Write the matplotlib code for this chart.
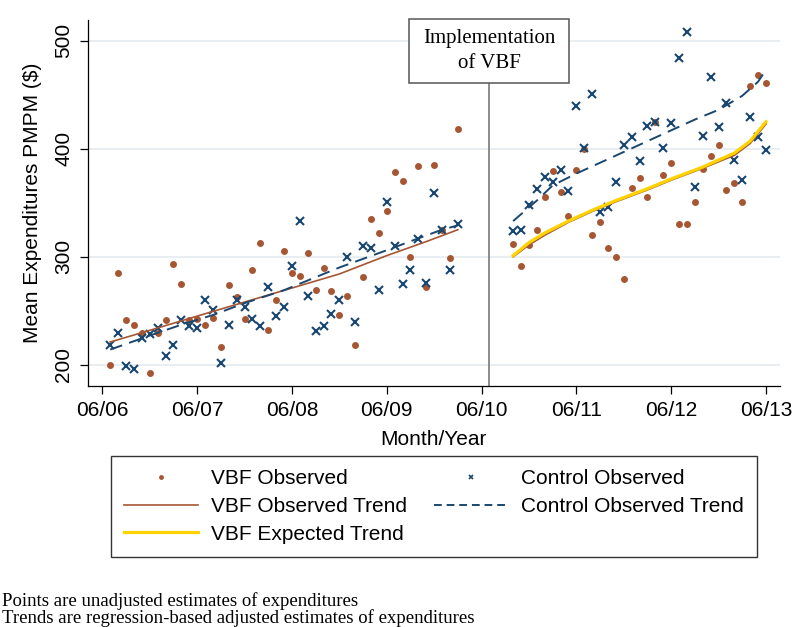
import numpy as np
import matplotlib.pyplot as plt
from matplotlib.lines import Line2D
from matplotlib.patches import Rectangle

plt.rcParams['font.family'] = ['Liberation Sans', 'DejaVu Sans']

# x = months since June 2006
pre_months = np.arange(1, 46)
post_months = np.arange(52, 85)

vbf_pre = [200, 285, 241, 237, 229, 192, 229, 241, 293, 275,
           241, 242, 237, 243, 216, 274, 263, 242, 288, 313,
           232, 260, 305, 285, 282, 303, 269, 290, 268, 246,
           264, 218, 281, 335, 322, 342, 378, 370, 300, 384,
           272, 385, 325, 299, 418]
ctrl_pre = [218, 229, 199, 196, 225, 228, 234, 208, 218, 241,
            236, 234, 260, 251, 202, 237, 260, 253, 242, 236,
            272, 245, 253, 291, 333, 264, 231, 236, 247, 260,
            300, 240, 310, 308, 269, 351, 310, 275, 288, 316,
            276, 359, 325, 288, 330]
vbf_post = [312, 291, 311, 325, 355, 379, 360, 338, 380, 400,
            320, 332, 308, 300, 279, 364, 373, 355, 425, 376,
            387, 330, 330, 351, 381, 393, 403, 362, 368, 351,
            458, 468, 461]
ctrl_post = [324, 325, 348, 363, 374, 369, 380, 361, 440, 401,
             451, 341, 346, 369, 403, 411, 389, 421, 425, 401,
             424, 484, 508, 365, 412, 466, 420, 442, 390, 371,
             429, 411, 399]

# trend lines (read at a few months)
vbf_trend_pre_m = [1, 7, 12, 18, 24, 30, 36, 41, 45]
vbf_trend_pre = [221, 234, 245, 258, 271, 284, 301, 314, 325]
ctrl_trend_pre_m = [1, 6, 10, 14, 18, 23, 30, 36, 40, 43, 45]
ctrl_trend_pre = [214, 227, 237, 246, 257, 269, 290, 306, 317, 325, 329]
ctrl_trend_post_m = [52, 55, 57, 60, 63, 66, 69, 72, 75, 78, 81, 83, 84]
ctrl_trend_post = [333, 352, 366, 377, 387, 397, 407, 417, 427, 436, 449, 462, 473]
post_trend_m = [52, 54, 56, 59, 62, 65, 69, 72, 76, 80, 82, 84]
exp_trend = [301, 313, 322, 333, 343, 352, 363, 372, 383, 396, 407, 425]
vbf_trend_post = [300, 311, 320, 332, 342, 351, 362, 371, 382, 394, 405, 423]

tick_months = [0, 12, 24, 36, 48, 60, 72, 84]
tick_labels = ['06/06', '06/07', '06/08', '06/09', '06/10', '06/11', '06/12', '06/13']
impl_month = 49

brown = '#a65632'
navy = '#1a476f'
gold = '#ffd200'

fig = plt.figure(figsize=(8, 6.27), dpi=100)
ax = fig.add_axes([0.1104, 0.3844, 0.864, 0.5837])

ax.plot(pre_months, vbf_pre, 'o', ms=5, color=brown, mec='none')
ax.plot(post_months, vbf_post, 'o', ms=5, color=brown, mec='none')
ax.plot(pre_months, ctrl_pre, 'x', ms=5.5, mew=1.5, color=navy)
ax.plot(post_months, ctrl_post, 'x', ms=5.5, mew=1.5, color=navy)

ax.plot(vbf_trend_pre_m, vbf_trend_pre, '-', color=brown, lw=1.2)
ax.plot(post_trend_m, vbf_trend_post, '-', color=brown, lw=1.4)
ax.plot(ctrl_trend_pre_m, ctrl_trend_pre, color=navy, lw=1.4, ls=(0, (6.5, 3.8)))
ax.plot(ctrl_trend_post_m, ctrl_trend_post, color=navy, lw=1.4, ls=(0, (6.5, 3.8)))
ax.plot(post_trend_m, exp_trend, '-', color=gold, lw=2.3)

ax.set_xlim(-1.77, 85.72)
ax.set_ylim(180.3, 519.2)

# implementation marker
ax.axvline(impl_month, color='#6e6e6e', lw=1.1, zorder=1)
ax.add_patch(Rectangle((impl_month - 10.13, 460.8), 20.26, 59.3, fc='white',
                       ec='#555555', lw=1.1, clip_on=False, zorder=5))
ax.text(impl_month, 490.5, 'Implementation\nof VBF', ha='center', va='center',
        family=['Liberation Serif'], fontsize=15, zorder=6, linespacing=1.4)

ax.set_yticks([200, 300, 400, 500])
ax.set_yticklabels(['200', '300', '400', '500'], rotation=90, va='center')
ax.set_xticks(tick_months)
ax.set_xticklabels(tick_labels)
ax.tick_params(axis='both', labelsize=15, length=6, width=0.9, pad=5)
ax.yaxis.grid(True, color='#e4ebef', lw=1.2)
ax.set_axisbelow(True)
for s in ['top', 'right']:
    ax.spines[s].set_visible(False)
for s in ['left', 'bottom']:
    ax.spines[s].set_linewidth(0.9)

ax.set_ylabel('Mean Expenditures PMPM ($)', fontsize=15)
ax.yaxis.set_label_coords(-0.067, 0.5)
ax.set_xlabel('Month/Year', fontsize=15, va='center')
ax.xaxis.set_label_coords(0.5, -0.1475)

handles = [
    Line2D([], [], ls='none', marker='o', ms=3.5, color=brown, mec='none'),
    Line2D([], [], color=brown, lw=1.2),
    Line2D([], [], color=gold, lw=2.3),
    Line2D([], [], ls='none', marker='x', ms=3.5, mew=1.2, color=navy),
    Line2D([], [], color=navy, lw=1.4, ls=(0, (4, 2.5))),
]
labels = ['VBF Observed', 'VBF Observed Trend', 'VBF Expected Trend',
          'Control Observed', 'Control Observed Trend']
leg = fig.legend(handles, labels, ncol=2, loc='center', bbox_to_anchor=(0.542, 0.1922),
                 frameon=True, fancybox=False, edgecolor='black', fontsize=15,
                 handlelength=3.55, handletextpad=0.63, columnspacing=1.3,
                 labelspacing=0.42, borderpad=0.62)
leg.get_frame().set_linewidth(1)

fig.text(0.002, 1 - 601 / 627, 'Points are unadjusted estimates of expenditures',
         family=['Liberation Serif'], fontsize=13.5, va='center')
fig.text(0.002, 1 - 618 / 627, 'Trends are regression-based adjusted estimates of expenditures',
         family=['Liberation Serif'], fontsize=13.5, va='center')

fig.savefig('out.png', dpi=100)
